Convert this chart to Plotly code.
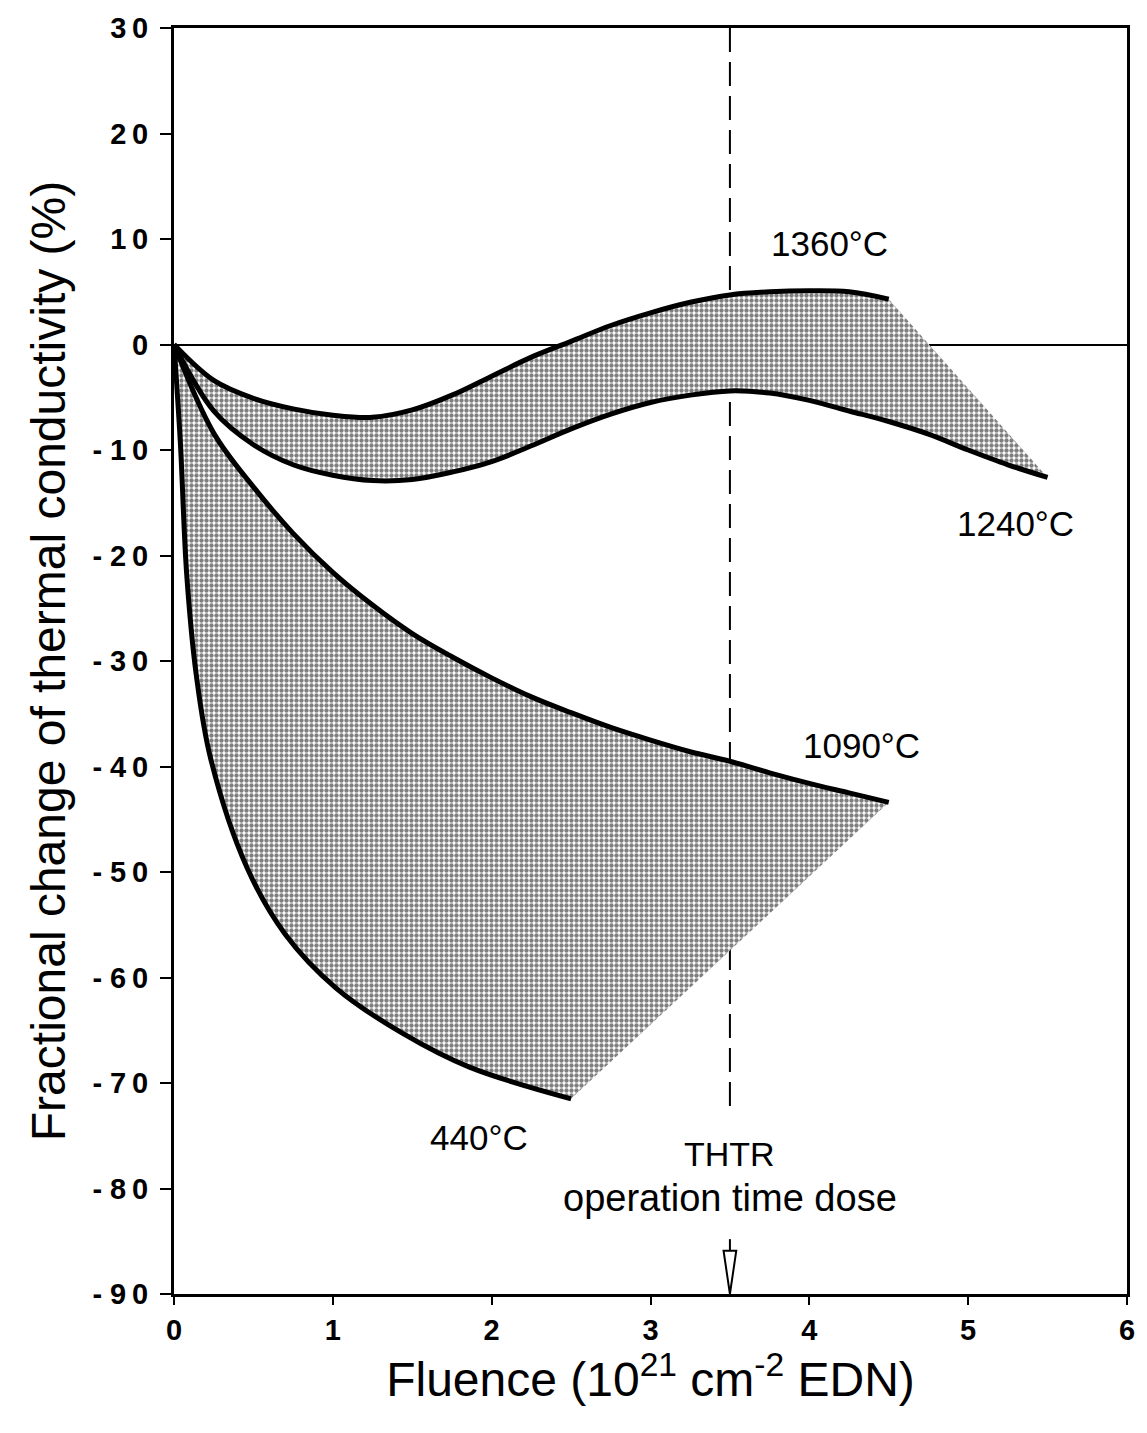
import plotly.graph_objects as go

# Fluence (10^21 cm^-2 EDN) and fractional change of thermal conductivity (%)
x_1360 = [0, 0.25, 0.5, 0.75, 1.0, 1.25, 1.5, 1.75, 2.0, 2.25, 2.5, 2.75, 3.0, 3.25, 3.5, 3.75, 4.0, 4.25, 4.5]
y_1360 = [0, -3.4, -5.1, -6.1, -6.7, -6.9, -6.2, -4.8, -3.0, -1.2, 0.3, 1.8, 3.0, 4.0, 4.7, 5.0, 5.1, 5.0, 4.3]

x_1240 = [0, 0.25, 0.5, 0.75, 1.0, 1.25, 1.5, 1.75, 2.0, 2.25, 2.5, 2.75, 3.0, 3.25, 3.5,
          3.75, 4.0, 4.25, 4.5, 4.75, 5.0, 5.25, 5.5]
y_1240 = [0, -6.3, -9.5, -11.4, -12.4, -12.9, -12.8, -12.1, -11.1, -9.6, -8.0, -6.6, -5.5, -4.8, -4.4,
          -4.6, -5.3, -6.3, -7.3, -8.5, -10.0, -11.4, -12.6]

x_1090 = [0, 0.25, 0.5, 0.75, 1.0, 1.25, 1.5, 1.75, 2.0, 2.25, 2.5, 2.75, 3.0, 3.25, 3.5,
          3.75, 4.0, 4.25, 4.5]
y_1090 = [0, -8.4, -13.5, -17.9, -21.6, -24.7, -27.4, -29.6, -31.6, -33.4, -34.9, -36.3, -37.5,
          -38.6, -39.5, -40.6, -41.6, -42.5, -43.4]

x_440 = [0, 0.04, 0.08, 0.14, 0.23, 0.46, 0.70, 1.02, 1.44, 1.86, 2.5]
y_440 = [0, -9.3, -21.8, -31.3, -39.2, -49.6, -55.9, -61.0, -65.3, -68.5, -71.5]

# Curve labels
label_text = ["1360°C", "1240°C", "1090°C", "440°C"]
label_x = [4.13, 5.30, 4.33, 1.92]
label_y = [9.6, -17.0, -38.0, -75.2]

# THTR operation time dose marker
thtr_dose = 3.5
dash_bottom = -73.0

# Axis ticks
x_ticks = [0, 1, 2, 3, 4, 5, 6]
y_ticks = [30, 20, 10, 0, -10, -20, -30, -40, -50, -60, -70, -80, -90]


def tick_label(v):
    digits = "\u2009".join(str(abs(v)))
    return ("- " + digits) if v < 0 else digits


y_tick_text = [tick_label(v) for v in y_ticks]

TEXT_FONT = "Liberation Sans, Arial, sans-serif"
TICK_FONT = "Liberation Sans, Arial, sans-serif"

halftone = dict(shape=".", fgcolor="black", bgcolor="white", size=5, solidity=0.6, fillmode="overlay")

fig = go.Figure()

# dashed dose line (beneath the shaded bands)
fig.add_trace(go.Scatter(
    x=[thtr_dose, thtr_dose], y=[y_ticks[0], dash_bottom], mode="lines",
    line=dict(color="black", width=2, dash="24px,10px"), hoverinfo="skip"))

# shaded band between 1360 and 1240 degC
fig.add_trace(go.Scatter(
    x=x_1360 + x_1240[::-1], y=y_1360 + y_1240[::-1], mode="lines",
    fill="toself", fillcolor="rgba(0,0,0,0)", fillpattern=halftone,
    line=dict(width=0, color="rgba(0,0,0,0)"), hoverinfo="skip"))

# shaded band between 1090 and 440 degC
fig.add_trace(go.Scatter(
    x=x_1090 + x_440[::-1], y=y_1090 + y_440[::-1], mode="lines",
    fill="toself", fillcolor="rgba(0,0,0,0)", fillpattern=halftone,
    line=dict(width=0, color="rgba(0,0,0,0)"), hoverinfo="skip"))

for xs, ys in [(x_1360, y_1360), (x_1240, y_1240), (x_1090, y_1090), (x_440, y_440)]:
    fig.add_trace(go.Scatter(
        x=xs, y=ys, mode="lines",
        line=dict(color="black", width=5, shape="spline", smoothing=1.0)))

for t, lx, ly in zip(label_text, label_x, label_y):
    fig.add_annotation(x=lx, y=ly, text=t, showarrow=False,
                       font=dict(family=TEXT_FONT, size=35, color="black"))

fig.add_annotation(x=thtr_dose, y=-76.7, text="THTR", showarrow=False,
                   font=dict(family=TEXT_FONT, size=34, color="black"))
fig.add_annotation(x=thtr_dose, y=-80.9, text="operation time dose", showarrow=False,
                   font=dict(family=TEXT_FONT, size=38, color="black"))

# hollow arrow pointing at the dose on the fluence axis
hw = 0.04
stem_top, head_top, tip = -84.8, -85.9, -90.0
fig.add_shape(type="line", xref="x", yref="y", x0=thtr_dose, x1=thtr_dose,
              y0=stem_top, y1=head_top, line=dict(color="black", width=2))
fig.add_shape(type="path", xref="x", yref="y",
              path=f"M {thtr_dose - hw},{head_top} L {thtr_dose + hw},{head_top} L {thtr_dose},{tip} Z",
              line=dict(color="black", width=2), fillcolor="white")

fig.update_layout(
    width=1147, height=1433,
    margin=dict(l=174, r=19, t=24, b=139),
    paper_bgcolor="white", plot_bgcolor="white",
    showlegend=False,
)

fig.update_xaxes(
    range=[0, 6], tickvals=x_ticks, ticktext=[str(v) for v in x_ticks],
    showgrid=False, zeroline=False,
    showline=True, linecolor="black", linewidth=3, mirror=True,
    ticks="outside", ticklen=8, tickwidth=2, tickcolor="black",
    tickfont=dict(family=TICK_FONT, size=29, color="black", weight="bold"),
    title=dict(text="Fluence (10<sup>21</sup> cm<sup>-2</sup> EDN)",
               font=dict(family=TEXT_FONT, size=48, color="black"), standoff=14),
)

fig.update_yaxes(
    range=[-90, 30], tickvals=y_ticks, ticktext=y_tick_text,
    showgrid=False, zeroline=True, zerolinecolor="black", zerolinewidth=2,
    showline=True, linecolor="black", linewidth=3, mirror=True,
    ticks="outside", ticklen=11, tickwidth=2, tickcolor="black",
    ticklabelstandoff=6,
    tickfont=dict(family=TICK_FONT, size=29, color="black", weight="bold"),
    title=dict(text="Fractional change of thermal conductivity (%)",
               font=dict(family=TEXT_FONT, size=48, color="black"), standoff=12),
)

fig.write_html("out.html")
